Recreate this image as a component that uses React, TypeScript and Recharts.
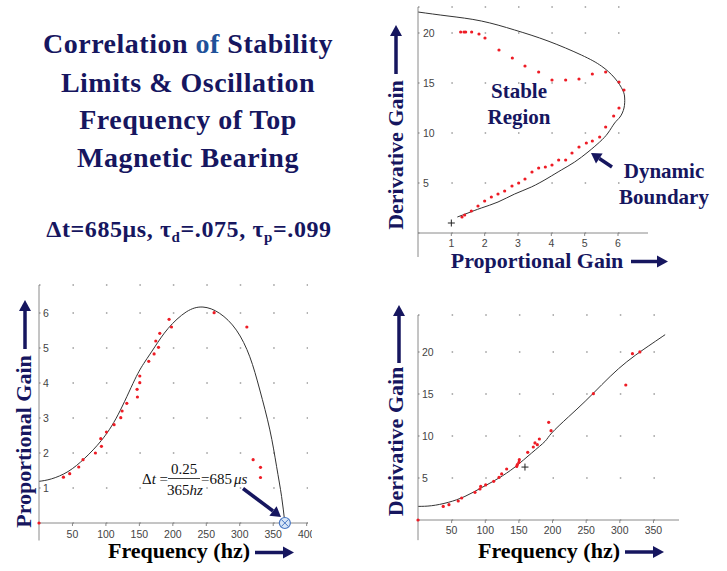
import React from "react";
import { ComposedChart, Line, Scatter, XAxis, YAxis, CartesianGrid, ReferenceLine } from "recharts";

const NAVY = "#16165f";
const BLUE = "#1f5199";
const RED = "#ee1c25";
const AXIS = "#8a8a8a";
const SERIF = "'Liberation Serif', 'Times New Roman', serif";
const SANS = "'Liberation Sans', Arial, sans-serif";

// top right: measured stability limits, derivative gain vs proportional gain
const limitKp = [1.28, 1.38, 1.43, 1.61, 1.83, 2.01, 2.43, 2.83, 3.21, 3.62, 4.02, 4.43, 4.83, 5.23, 5.63, 6.03, 6.18, 6.03, 5.87, 5.63, 5.45, 5.23, 5.05, 4.83, 4.62, 4.43, 4.22, 4.02, 3.82, 3.62, 3.42, 3.21, 3.02, 2.82, 2.6, 2.4, 2.2, 2.0, 1.8, 1.6, 1.4, 1.32];
const limitKd = [20.1, 20.1, 20.1, 20.1, 19.9, 19.5, 18.3, 17.5, 16.7, 16.1, 15.3, 15.3, 15.4, 15.9, 16.1, 15.1, 14.3, 12.5, 11.7, 10.6, 9.6, 9.2, 9.0, 8.6, 8.0, 7.3, 7.3, 6.8, 6.6, 6.5, 6.1, 5.4, 5.0, 4.7, 4.2, 3.9, 3.6, 3.2, 2.7, 2.2, 1.8, 1.6];
const boundaryKp = [0.0, 0.9, 1.9, 2.9, 3.9, 4.9, 5.5, 5.9, 6.14, 6.2, 6.18, 6.06, 5.9, 5.7, 5.45, 5.1, 4.7, 4.3, 3.9, 3.4, 2.9, 2.4, 1.9, 1.5, 1.18];
const boundaryKd = [22.1, 21.7, 21.2, 20.3, 19.2, 17.8, 16.7, 15.5, 14.3, 13.5, 12.5, 11.6, 11.0, 10.0, 9.1, 8.1, 7.1, 6.3, 5.5, 4.6, 3.9, 3.1, 2.5, 2.0, 1.6];
const startKp = [1.0];
const startKd = [1.0];
const kpTicks = [1, 2, 3, 4, 5, 6];
const kdTicks = [5, 10, 15, 20];

// bottom left: proportional gain vs oscillation frequency
const freqP = [0, 36.5, 45.9, 59.4, 65.8, 84.3, 93.3, 92.3, 100.8, 112.2, 122.2, 124.2, 131.2, 147.1, 146.6, 150.6, 150.6, 164, 172, 178.6, 174.5, 180.5, 198, 194.4, 261.7, 310.6, 320, 331, 331];
const gainP = [0, 1.31, 1.41, 1.6, 1.81, 2.0, 2.19, 2.41, 2.6, 2.81, 3.01, 3.2, 3.42, 3.6, 3.82, 4.01, 4.2, 4.62, 4.83, 5.02, 5.2, 5.42, 5.6, 5.82, 6.01, 5.6, 1.81, 1.59, 1.3];
const fitFreqP = [0, 18.5, 43.4, 68.3, 93.3, 118, 143, 158, 173, 193, 220, 245, 270, 295, 315, 330, 345, 355, 362.5, 367.4];
const fitGainP = [1.19, 1.26, 1.47, 1.85, 2.36, 3.09, 4.09, 4.6, 5.03, 5.56, 6.03, 6.17, 5.99, 5.51, 4.75, 3.8, 2.66, 1.62, 0.76, 0];
const cutoffFreq = [367.4];
const cutoffGain = [0];
const freqTicksP = [50, 100, 150, 200, 250, 300, 350, 400];
const gainTicksP = [1, 2, 3, 4, 5, 6];

// bottom right: derivative gain vs oscillation frequency
const freqD = [0, 37.5, 46, 59.8, 64.9, 84.7, 92.1, 93.2, 100.6, 112.5, 120.4, 124.4, 131.8, 146.7, 147.6, 150.1, 150.6, 163.1, 171.4, 173.9, 177.4, 180.4, 194.3, 197.8, 260.7, 308.9, 318.8, 329.8];
const gainD = [0, 1.62, 1.82, 2.26, 2.62, 3.29, 3.69, 4.0, 4.17, 4.6, 5.07, 5.48, 6.07, 6.38, 6.58, 6.86, 7.18, 8.05, 8.69, 9.17, 8.96, 9.64, 11.62, 10.63, 15.04, 16.07, 19.8, 20.0];
const fitFreqD = [0, 20.2, 45, 69.8, 94.6, 119.3, 144.2, 169, 188.8, 198.8, 223.5, 248.4, 273.2, 298, 323, 348, 367.4];
const fitGainD = [1.62, 1.7, 2.1, 2.81, 3.85, 4.95, 6.31, 7.98, 9.36, 10.36, 12.26, 14.12, 16.1, 18.0, 19.6, 21.0, 22.06];
const markFreqD = [159];
const markGainD = [6.3];
const freqTicksD = [50, 100, 150, 200, 250, 300, 350];
const gainTicksD = [5, 10, 15, 20];

const zip = (xs: number[], ys: number[]) => xs.map((x, i) => ({ x, y: ys[i] }));

const RedDot = (p: any) => <circle cx={p.cx} cy={p.cy} r={1.6} fill={RED} />;
const Plus = (p: any) => (
  <g stroke="#222" strokeWidth={1}>
    <line x1={p.cx - 3.5} x2={p.cx + 3.5} y1={p.cy} y2={p.cy} />
    <line x1={p.cx} x2={p.cx} y1={p.cy - 3.5} y2={p.cy + 3.5} />
  </g>
);
const CircleX = (p: any) => (
  <g>
    <circle cx={p.cx} cy={p.cy} r={5.5} fill="#d8e6f7" stroke="#4a78c4" strokeWidth={1.2} />
    <line x1={p.cx - 3.5} y1={p.cy - 3.5} x2={p.cx + 3.5} y2={p.cy + 3.5} stroke="#4a78c4" strokeWidth={1} />
    <line x1={p.cx - 3.5} y1={p.cy + 3.5} x2={p.cx + 3.5} y2={p.cy - 3.5} stroke="#4a78c4" strokeWidth={1} />
  </g>
);

interface PanelProps {
  left: number;
  top: number;
  width: number;
  height: number;
  margin: { top: number; right: number; bottom: number; left: number };
  xDomain: [number, number];
  yDomain: [number, number];
  xTicks: number[];
  yTicks: number[];
  xStep: number;
  yBelow: number;
  xTickMargin: number;
  yTickMargin: number;
  points: { x: number; y: number }[];
  curve: { x: number; y: number }[];
  marks: { x: number; y: number }[];
  markShape: (p: any) => React.ReactElement;
}

function Panel(p: PanelProps) {
  const plotW = p.width - p.margin.left - p.margin.right;
  const gap = (plotW / (p.xDomain[1] - p.xDomain[0])) * p.xStep;
  const tick = { fontSize: 10.5, fill: "#444", fontFamily: SANS };
  return (
    <div style={{ position: "absolute", left: p.left, top: p.top }}>
      <ComposedChart width={p.width} height={p.height} margin={p.margin}>
        <CartesianGrid vertical={false} stroke="#9a9a9a" strokeWidth={1.5} strokeDasharray={`1.5 ${gap - 1.5}`} />
        <XAxis
          type="number"
          dataKey="x"
          domain={p.xDomain}
          ticks={p.xTicks}
          interval={0}
          height={20}
          tickSize={3}
          tickMargin={p.xTickMargin}
          stroke={AXIS}
          tick={tick}
        />
        <YAxis
          type="number"
          dataKey="y"
          domain={p.yDomain}
          ticks={p.yTicks}
          interval={0}
          mirror
          width={1}
          tickSize={0}
          tickMargin={p.yTickMargin}
          stroke={AXIS}
          tick={tick}
        />
        <ReferenceLine
          segment={[{ x: p.xDomain[0], y: 0 }, { x: p.xDomain[0], y: p.yBelow }]}
          stroke={AXIS}
          ifOverflow="visible"
        />
        <Line data={p.curve} dataKey="y" type="natural" dot={false} stroke="#333" strokeWidth={1} isAnimationActive={false} />
        <Scatter data={p.points} dataKey="y" shape={RedDot} isAnimationActive={false} />
        <Scatter data={p.marks} dataKey="y" shape={p.markShape} isAnimationActive={false} />
      </ComposedChart>
    </div>
  );
}

function Arrow({ x1, y1, x2, y2, w = 3.5, hl = 11, hw = 6 }: any) {
  const a = Math.atan2(y2 - y1, x2 - x1);
  const bx = x2 - hl * Math.cos(a);
  const by = y2 - hl * Math.sin(a);
  const nx = -Math.sin(a);
  const ny = Math.cos(a);
  return (
    <g>
      <line x1={x1} y1={y1} x2={bx} y2={by} stroke={NAVY} strokeWidth={w} />
      <polygon points={`${x2},${y2} ${bx + nx * hw},${by + ny * hw} ${bx - nx * hw},${by - ny * hw}`} fill={NAVY} />
    </g>
  );
}

export default function App() {
  const bold = { fontFamily: SERIF, fontWeight: 700, fill: NAVY } as const;
  return (
    <div style={{ position: "absolute", left: 0, top: 0, width: 727, height: 571, background: "#fff", overflow: "hidden" }}>
      <Panel
        left={370}
        top={0}
        width={300}
        height={260}
        margin={{ top: 7, right: 22, bottom: 7, left: 48 }}
        xDomain={[0, 6.9]}
        yDomain={[0, 22.6]}
        xTicks={kpTicks}
        yTicks={kdTicks}
        xStep={1}
        yBelow={-2.4}
        xTickMargin={4}
        yTickMargin={5}
        points={zip(limitKp, limitKd)}
        curve={zip(boundaryKp, boundaryKd)}
        marks={zip(startKp, startKd)}
        markShape={Plus}
      />
      <Panel
        left={0}
        top={275}
        width={312}
        height={270}
        margin={{ top: 10, right: 4, bottom: 2, left: 39 }}
        xDomain={[0, 402]}
        yDomain={[0, 6.8]}
        xTicks={freqTicksP}
        yTicks={gainTicksP}
        xStep={50}
        yBelow={-0.5}
        xTickMargin={5}
        yTickMargin={4}
        points={zip(freqP, gainP)}
        curve={zip(fitFreqP, fitGainP)}
        marks={zip(cutoffFreq, cutoffGain)}
        markShape={CircleX}
      />
      <Panel
        left={370}
        top={300}
        width={320}
        height={245}
        margin={{ top: 15, right: 11, bottom: 5, left: 48 }}
        xDomain={[0, 388]}
        yDomain={[0, 24.4]}
        xTicks={freqTicksD}
        yTicks={gainTicksD}
        xStep={50}
        yBelow={-2.4}
        xTickMargin={4}
        yTickMargin={4}
        points={zip(freqD, gainD)}
        curve={zip(fitFreqD, fitGainD)}
        marks={zip(markFreqD, markGainD)}
        markShape={Plus}
      />

      <svg width={727} height={571} style={{ position: "absolute", left: 0, top: 0, pointerEvents: "none" }}>
        {/* title block */}
        <g {...bold} fontSize={28} letterSpacing={0.5} textAnchor="middle">
          <text x={188} y={53}>
            Correlation <tspan fill={BLUE}>of</tspan> Stability
          </text>
          <text x={188} y={91.5}>Limits &amp; Oscillation</text>
          <text x={188} y={129.3}>Frequency of Top</text>
          <text x={188} y={167}>Magnetic Bearing</text>
        </g>
        <text {...bold} fontSize={24} letterSpacing={0.6} x={189} y={237} textAnchor="middle">
          Δt=685μs, τ<tspan fontSize={15} dy={5}>d</tspan>
          <tspan dy={-5}>=.075, τ</tspan>
          <tspan fontSize={15} dy={5}>p</tspan>
          <tspan dy={-5}>=.099</tspan>
        </text>

        {/* top right labels */}
        <text {...bold} fontSize={22} transform="translate(403,155) rotate(-90)" textAnchor="middle">Derivative Gain</text>
        <Arrow x1={396} y1={74} x2={396} y2={25} />
        <text {...bold} fontSize={22} x={537} y={267.5} textAnchor="middle">Proportional Gain</text>
        <Arrow x1={631} y1={261.5} x2={668} y2={261.5} />
        <g {...bold} fontSize={21} textAnchor="middle">
          <text x={519} y={97.7}>Stable</text>
          <text x={519} y={124}>Region</text>
          <text x={664} y={178}>Dynamic</text>
          <text x={664} y={204}>Boundary</text>
        </g>
        <Arrow x1={612} y1={167} x2={591} y2={153} w={3.5} hl={10} hw={6} />

        {/* bottom left labels */}
        <text {...bold} fontSize={22} transform="translate(31,441.5) rotate(-90)" textAnchor="middle">Proportional Gain</text>
        <Arrow x1={25} y1={349} x2={25} y2={300} />
        <text fontFamily={SERIF} fontWeight={700} fill="#000" fontSize={22} x={179} y={558} textAnchor="middle">Frequency (hz)</text>
        <Arrow x1={255} y1={552.5} x2={294} y2={552.5} />
        <g fontFamily={SERIF} fill="#111" fontSize={15}>
          <text x={142} y={483.5}>Δ<tspan fontStyle="italic">t</tspan> =</text>
          <text x={184} y={474} textAnchor="middle">0.25</text>
          <line x1={168} x2={200} y1={478.5} y2={478.5} stroke="#111" strokeWidth={0.8} />
          <text x={185} y={494.5} textAnchor="middle">365<tspan fontStyle="italic">hz</tspan></text>
          <text x={201} y={483.5}>=685<tspan fontStyle="italic" dx={2}>μs</tspan></text>
        </g>
        <Arrow x1={243} y1={488.5} x2={281} y2={517} w={3.5} hl={10} hw={6} />

        {/* bottom right labels */}
        <text {...bold} fontSize={22} transform="translate(403,441.5) rotate(-90)" textAnchor="middle">Derivative Gain</text>
        <Arrow x1={399} y1={363} x2={399} y2={305} />
        <text fontFamily={SERIF} fontWeight={700} fill="#000" fontSize={22} x={549} y={558} textAnchor="middle">Frequency (hz)</text>
        <Arrow x1={625} y1={552} x2={664} y2={552} />
      </svg>
    </div>
  );
}
